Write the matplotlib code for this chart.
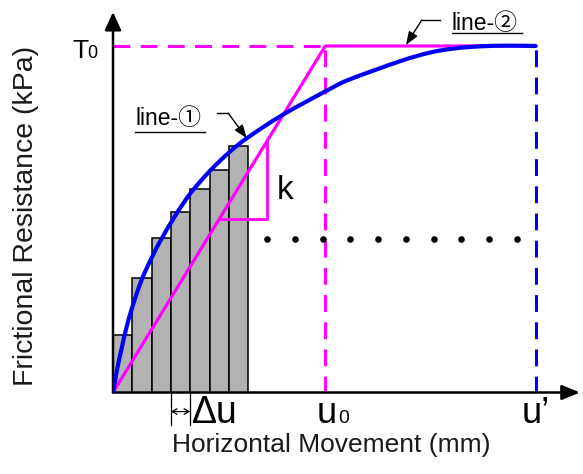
import matplotlib
matplotlib.use("Agg")
import matplotlib.pyplot as plt
from matplotlib.path import Path
from matplotlib.patches import PathPatch
import numpy as np

plt.rcParams['font.family'] = ['Liberation Sans', 'Noto Sans CJK SC', 'DejaVu Sans']

# ---- data (schematic units: delta_u = 1, T0 = 100) ----
T0 = 100.0
u0 = 11.0
u_prime = 21.9
delta_u = 1.0

bar_index = [0, 1, 2, 3, 4, 5, 6]
bar_heights = [16.6, 33.1, 44.5, 52.2, 58.6, 64.2, 71.1]

curve_x = [0, 0.2, 0.45, 0.71, 1.02, 1.49, 2.04, 2.44, 3.21, 4.03, 5.03, 6.06,
           6.99, 8.81, 11.24, 12.28, 14.87, 16.42, 17.7, 19.02, 20.5, 21.9]
curve_y = [0, 6.3, 12.8, 19.0, 25.0, 32.6, 39.3, 43.6, 50.9, 57.6, 64.0, 69.5,
           73.6, 80.2, 87.6, 90.4, 95.6, 98.1, 99.3, 99.9, 100.1, 100.0]

line2_x = [0, u0, u_prime]
line2_y = [0, T0, T0]

slope_x = [7.96, 7.96]
slope_y = [50.1, 72.4]

dot_x = [8.0, 9.43, 10.87, 12.3, 13.74, 15.17, 16.61, 18.04, 19.48, 20.92]
dot_level = 44.3

# ---- figure ----
W, H = 583, 474
fig = plt.figure(figsize=(W / 100, H / 100), dpi=100)
px_x = 19.3   # pixels per x unit
px_y = 3.465  # pixels per y unit
x0_px, y0_px = 113, 392.5
X1 = (580 - x0_px) / px_x
Y1 = (y0_px - 12) / px_y
ax = fig.add_axes([x0_px / W, (H - y0_px) / H, (580 - x0_px) / W, (y0_px - 12) / H])
ax.set_xlim(0, X1)
ax.set_ylim(0, Y1)
ax.axis('off')

MAG = '#FF00FF'
BLUE = '#0000F5'

# bars
ax.bar(np.array(bar_index) + 0.5, bar_heights, width=delta_u, color='#B2B2B2',
       edgecolor='black', linewidth=1.1, zorder=1)

# line-2 (bilinear)
ax.plot(line2_x, line2_y, color=MAG, lw=2.3, zorder=3, solid_capstyle='butt')
# slope triangle
tri_x0 = slope_y[0] * u0 / T0
ax.plot([tri_x0, slope_x[0], slope_x[1]], [slope_y[0], slope_y[0], slope_y[1]],
        color=MAG, lw=2.0, zorder=3)

# dashed guide lines
dash = (0, (5.5, 3.4))
ax.plot([0, u0], [T0, T0], color=MAG, lw=2.2, linestyle=dash, zorder=2)
ax.plot([u0, u0], [0, T0], color=MAG, lw=2.2, linestyle=dash, zorder=2)
ax.plot([u_prime, u_prime], [0, T0], color=BLUE, lw=2.2, linestyle=dash, zorder=2)

# line-1 (smooth curve through the read points, drawn as Bezier path)
P = np.column_stack([curve_x, curve_y])
Pe = np.vstack([P[0], P, P[-1]])
verts = [tuple(P[0])]
codes = [Path.MOVETO]
for i in range(len(P) - 1):
    p0, p1, p2, p3 = Pe[i], Pe[i + 1], Pe[i + 2], Pe[i + 3]
    c1 = p1 + (p2 - p0) / 6.0
    c2 = p2 - (p3 - p1) / 6.0
    verts += [tuple(c1), tuple(c2), tuple(p2)]
    codes += [Path.CURVE4] * 3
ax.add_patch(PathPatch(Path(verts, codes), facecolor='none', edgecolor=BLUE,
                       lw=3.0, zorder=4, capstyle='round', joinstyle='round'))

# dots
ax.scatter(dot_x, [dot_level] * len(dot_x), s=14, color='black', zorder=5)

# axes arrows
ax.annotate('', xy=(X1, 0), xytext=(0, 0), annotation_clip=False,
            arrowprops=dict(arrowstyle='-|>,head_length=1.1,head_width=0.45',
                            lw=1.8, color='black', shrinkA=0, shrinkB=0,
                            mutation_scale=10))
ax.annotate('', xy=(0, Y1), xytext=(0, 0), annotation_clip=False,
            arrowprops=dict(arrowstyle='-|>,head_length=1.1,head_width=0.5',
                            lw=1.8, color='black', shrinkA=0, shrinkB=0,
                            mutation_scale=10))

# delta u marker
ax.plot([3, 3], [0, -9.4], color='black', lw=0.9, clip_on=False)
ax.plot([4, 4], [0, -9.4], color='black', lw=0.9, clip_on=False)
ax.annotate('', xy=(3, -5.5), xytext=(4, -5.5), annotation_clip=False,
            arrowprops=dict(arrowstyle='<->,head_length=0.35,head_width=0.2',
                            lw=0.9, color='black', shrinkA=0, shrinkB=0,
                            mutation_scale=10))
ax.text(4.1, -8.8, 'Δu', fontsize=27, va='baseline', ha='left', clip_on=False)

# u0 and u'
ax.text(10.55, -8.8, 'u', fontsize=26, va='baseline', ha='left', clip_on=False)
ax.text(11.65, -8.8, '0', fontsize=14, va='baseline', ha='left', clip_on=False)
ax.text(21.18, -8.8, 'u’', fontsize=26, va='baseline', ha='left', clip_on=False)

# T0
ax.text(-2.1, 96.45, 'T', fontsize=19, va='baseline', ha='left', clip_on=False)
ax.text(-1.33, 96.45, '0', fontsize=13, va='baseline', ha='left', clip_on=False)

# k
ax.text(8.9, 58.2, 'k', fontsize=24, va='center', ha='center')

# line labels
ax.text(1.14, 79.2, 'line-①', fontsize=16.5, va='center', ha='left')
ax.plot([1.14, 4.77], [75.3, 75.3], color='black', lw=1.0)
ax.plot([5.37, 5.97], [80.6, 80.6], color='black', lw=1.0)
ax.annotate('', xy=(6.93, 73.4), xytext=(5.97, 80.6),
            arrowprops=dict(arrowstyle='-|>,head_length=0.8,head_width=0.3',
                            lw=1.0, color='black', shrinkA=0, shrinkB=0,
                            mutation_scale=10))

ax.text(17.55, 106.6, 'line-②', fontsize=16.5, va='center', ha='left', clip_on=False)
ax.plot([17.55, 21.18], [103.7, 103.7], color='black', lw=1.0, clip_on=False)
ax.plot([16.94, 16.0], [107.5, 107.5], color='black', lw=1.0, clip_on=False)
ax.annotate('', xy=(15.18, 100.3), xytext=(16.0, 107.5), annotation_clip=False,
            arrowprops=dict(arrowstyle='-|>,head_length=0.8,head_width=0.3',
                            lw=1.0, color='black', shrinkA=0, shrinkB=0,
                            mutation_scale=10))

# axis labels
fig.text(331 / W, 1 - 452 / H, 'Horizontal Movement (mm)', fontsize=19,
         ha='center', va='baseline', color='#1a1a1a')
fig.text(26 / W, 1 - 216 / H, 'Frictional Resistance (kPa)', fontsize=20.5,
         ha='center', va='center', rotation=90, color='#1a1a1a')

fig.savefig('out.png', dpi=100)
